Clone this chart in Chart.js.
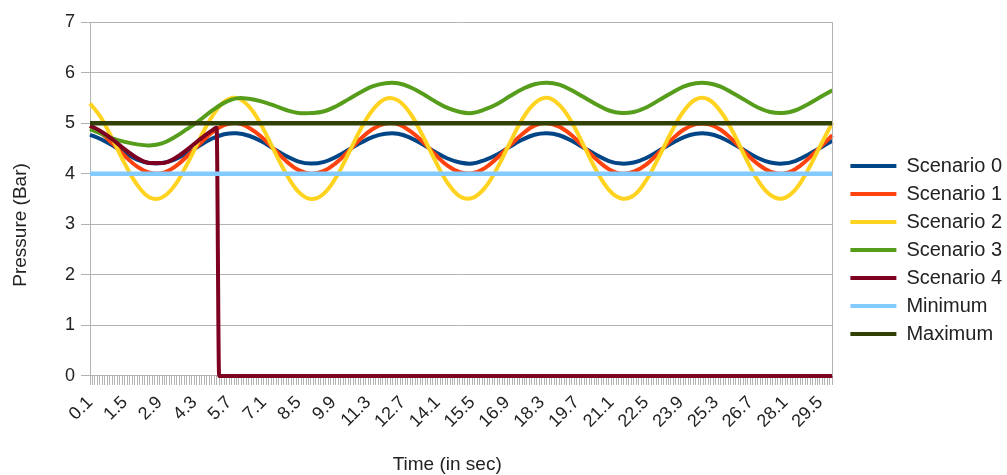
<!DOCTYPE html>
<html>
<head>
<meta charset="utf-8">
<script src="https://cdn.jsdelivr.net/npm/chart.js@4/dist/chart.umd.min.js"></script>
<style>
  html, body { margin: 0; padding: 0; background: #fff; }
  #wrap { width: 1007px; height: 475px; position: relative; }
</style>
</head>
<body>
<div id="wrap"><canvas id="chart"></canvas></div>
<script>
// Sample times (sec)
const times = [0.1, 0.5, 1.0, 1.5, 2.0, 2.5, 3.0, 3.5, 4.0, 4.5, 5.0, 5.5, 6.0, 6.5, 7.0, 7.5, 8.0, 8.5, 9.0, 9.5,
  10.0, 10.5, 11.0, 11.5, 12.0, 12.5, 13.0, 13.5, 14.0, 14.5, 15.0, 15.5, 16.0, 16.5, 17.0, 17.5, 18.0, 18.5, 19.0, 19.5,
  20.0, 20.5, 21.0, 21.5, 22.0, 22.5, 23.0, 23.5, 24.0, 24.5, 25.0, 25.5, 26.0, 26.5, 27.0, 27.5, 28.0, 28.5, 29.0, 29.5, 30.0];

const scenario0 = [4.77, 4.69, 4.56, 4.41, 4.28, 4.21, 4.21, 4.28, 4.40, 4.55, 4.69, 4.78, 4.80, 4.75, 4.64, 4.49, 4.35, 4.24, 4.20, 4.23,
  4.33, 4.47, 4.61, 4.73, 4.79, 4.79, 4.71, 4.58, 4.43, 4.30, 4.22, 4.20, 4.27, 4.38, 4.53, 4.67, 4.77, 4.80, 4.76, 4.65,
  4.51, 4.37, 4.25, 4.20, 4.22, 4.31, 4.45, 4.59, 4.72, 4.79, 4.79, 4.72, 4.59, 4.45, 4.31, 4.22, 4.20, 4.25, 4.37, 4.51, 4.65];

const scenario1 = [4.94, 4.82, 4.60, 4.35, 4.14, 4.02, 4.01, 4.13, 4.34, 4.58, 4.81, 4.96, 5.00, 4.91, 4.73, 4.49, 4.25, 4.07, 4.00, 4.05,
  4.21, 4.44, 4.69, 4.89, 4.99, 4.98, 4.84, 4.63, 4.38, 4.16, 4.03, 4.01, 4.11, 4.31, 4.55, 4.78, 4.95, 5.00, 4.93, 4.76,
  4.52, 4.28, 4.09, 4.00, 4.04, 4.18, 4.41, 4.66, 4.87, 4.98, 4.98, 4.87, 4.66, 4.41, 4.19, 4.04, 4.00, 4.09, 4.28, 4.52, 4.76];

const scenario2 = [5.39, 5.14, 4.69, 4.20, 3.78, 3.53, 3.53, 3.76, 4.18, 4.67, 5.12, 5.42, 5.50, 5.33, 4.96, 4.47, 4.00, 3.64, 3.50, 3.60,
  3.92, 4.39, 4.88, 5.27, 5.48, 5.45, 5.19, 4.75, 4.26, 3.82, 3.55, 3.52, 3.72, 4.11, 4.60, 5.07, 5.39, 5.50, 5.36, 5.02,
  4.54, 4.06, 3.68, 3.51, 3.57, 3.87, 4.32, 4.81, 5.23, 5.47, 5.47, 5.23, 4.82, 4.32, 3.87, 3.58, 3.51, 3.68, 4.06, 4.54, 5.01];

const scenario3 = [4.88, 4.80, 4.70, 4.63, 4.58, 4.56, 4.60, 4.72, 4.88, 5.05, 5.24, 5.40, 5.49, 5.48, 5.43, 5.35, 5.26, 5.20, 5.20, 5.23,
  5.33, 5.47, 5.61, 5.73, 5.79, 5.79, 5.71, 5.58, 5.43, 5.30, 5.22, 5.20, 5.27, 5.38, 5.53, 5.67, 5.77, 5.80, 5.76, 5.65,
  5.51, 5.37, 5.25, 5.20, 5.22, 5.31, 5.45, 5.59, 5.72, 5.79, 5.79, 5.72, 5.59, 5.45, 5.31, 5.22, 5.20, 5.25, 5.37, 5.51, 5.65];

// Scenario 4 has its own sample times (drops to zero at 5.3 s)
const times4 = [0.1, 0.5, 1.0, 1.5, 2.0, 2.5, 3.0, 3.5, 4.0, 4.5, 5.0, 5.2, 5.3, 30.0];
const scenario4 = [4.95, 4.85, 4.68, 4.48, 4.31, 4.21, 4.21, 4.30, 4.47, 4.67, 4.85, 4.91, 0, 0];

const limitTimes = [0.1, 30.0];
const minimum = [4, 4];
const maximum = [5, 5];

const xTickLabels = [0.1, 1.5, 2.9, 4.3, 5.7, 7.1, 8.5, 9.9, 11.3, 12.7, 14.1, 15.5, 16.9, 18.3, 19.7, 21.1, 22.5, 23.9, 25.3, 26.7, 28.1, 29.5];
const yTicks = [0, 1, 2, 3, 4, 5, 6, 7];
const xTitle = 'Time (in sec)';
const yTitle = 'Pressure (Bar)';

const FONT = '"Liberation Sans", Arial, sans-serif';
const GRID = '#b3b3b3';
const TEXT = '#222';

function pts(xs, ys) {
    return xs.map((x, i) => ({ x: x, y: ys[i] }));
}

function line(label, xs, ys, color, order, opts) {
    return Object.assign({
        label: label,
        data: pts(xs, ys),
        borderColor: color,
        backgroundColor: color,
        borderWidth: 4,
        pointRadius: 0,
        tension: 0.4,
        fill: false,
        clip: false,
        order: order
    }, opts || {});
}

// gray frame line on the right side of the plot
const rightBorder = {
    id: 'rightBorder',
    afterDatasetsDraw(chart) {
        const { ctx, chartArea } = chart;
        ctx.save();
        ctx.strokeStyle = GRID;
        ctx.lineWidth = 1;
        ctx.beginPath();
        ctx.moveTo(Math.round(chartArea.right) + 0.5, chartArea.top);
        ctx.lineTo(Math.round(chartArea.right) + 0.5, chartArea.bottom);
        ctx.stroke();
        ctx.restore();
    }
};

// axis titles sit a little off the plot centre in the original, so draw them here
const axisTitles = {
    id: 'axisTitles',
    afterDraw(chart) {
        const { ctx, chartArea } = chart;
        ctx.save();
        ctx.font = '19px ' + FONT;
        ctx.fillStyle = TEXT;
        ctx.textAlign = 'center';
        ctx.textBaseline = 'middle';
        ctx.fillText(xTitle, (chartArea.left + chartArea.right) / 2 - 14, chart.height - 10);
        ctx.translate(21, (chartArea.top + chartArea.bottom) / 2 + 26);
        ctx.rotate(-Math.PI / 2);
        ctx.fillText(yTitle, 0, 0);
        ctx.restore();
    }
};

// nudge the legend block right and down, as in the original
const legendShift = {
    id: 'legendShift',
    afterLayout(chart) {
        const lg = chart.legend;
        if (lg) {
            lg.left += 10;
            lg.right += 10;
            lg.top += 17;
            lg.bottom += 17;
        }
    }
};

const ctx = document.getElementById('chart').getContext('2d');
new Chart(ctx, {
    type: 'line',
    data: {
        datasets: [
            line('Scenario 0', times, scenario0, '#004586', 7),
            line('Scenario 1', times, scenario1, '#ff420e', 6),
            line('Scenario 2', times, scenario2, '#ffd320', 5),
            line('Scenario 3', times, scenario3, '#579d1c', 4),
            line('Scenario 4', times4, scenario4, '#7e0021', 3, { tension: 0, cubicInterpolationMode: 'monotone' }),
            line('Minimum', limitTimes, minimum, '#83caff', 2, { borderWidth: 4.5, tension: 0 }),
            line('Maximum', limitTimes, maximum, '#314004', 1, { borderWidth: 4.5, tension: 0 })
        ]
    },
    options: {
        responsive: true,
        maintainAspectRatio: false,
        animation: false,
        layout: { padding: { top: 22, right: 5, bottom: 36, left: 59 } },
        plugins: {
            tooltip: { enabled: false },
            legend: {
                position: 'right',
                fullSize: true,
                title: { display: true, text: ' ', font: { size: 1 }, padding: 2 },
                labels: {
                    color: TEXT,
                    font: { family: FONT, size: 20 },
                    boxWidth: 46,
                    boxHeight: 4,
                    padding: 8,
                    sort: (a, b) => a.datasetIndex - b.datasetIndex,
                    generateLabels: (chart) => {
                        const items = Chart.defaults.plugins.legend.labels.generateLabels(chart);
                        items.forEach(it => { it.lineWidth = 0; });
                        return items;
                    }
                }
            }
        },
        scales: {
            x: {
                type: 'linear',
                min: 0.1,
                max: 30,
                afterBuildTicks: (scale) => {
                    // one small tick per 0.1 s category, like the original
                    const ticks = [];
                    for (let i = 0; i < 300; i++) {
                        ticks.push({ value: Math.round((0.1 + i * 0.1) * 10) / 10 });
                    }
                    scale.ticks = ticks;
                },
                ticks: {
                    autoSkip: false,
                    minRotation: 45,
                    maxRotation: 45,
                    padding: 7,
                    color: TEXT,
                    font: { family: FONT, size: 18 },
                    callback: (value) => {
                        const v = Math.round(value * 10) / 10;
                        return xTickLabels.includes(v) ? v.toFixed(1) : '';
                    }
                },
                grid: {
                    drawOnChartArea: false,
                    color: GRID,
                    tickLength: 9
                },
                border: { color: GRID }
            },
            y: {
                min: 0,
                max: 7,
                afterBuildTicks: (scale) => {
                    scale.ticks = yTicks.map(v => ({ value: v }));
                },
                ticks: {
                    color: TEXT,
                    font: { family: FONT, size: 18 },
                    padding: 6
                },
                grid: {
                    color: GRID,
                    tickLength: 9
                },
                border: { color: GRID }
            }
        }
    },
    plugins: [rightBorder, axisTitles, legendShift]
});
</script>
</body>
</html>
